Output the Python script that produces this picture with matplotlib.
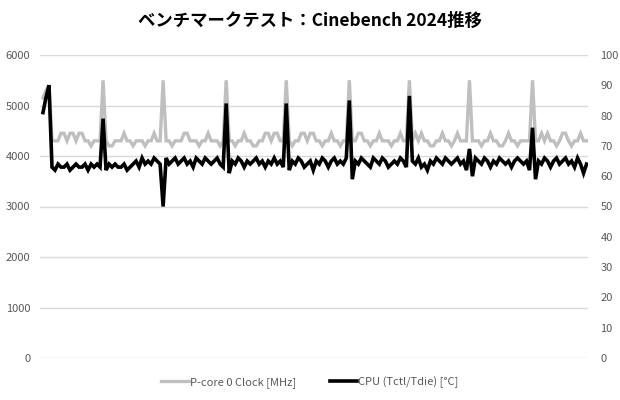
import matplotlib
matplotlib.use("Agg")
import matplotlib.pyplot as plt
import numpy as np

plt.rcParams['font.family'] = ['Noto Sans CJK JP', 'DejaVu Sans']

title = "ベンチマークテスト：Cinebench 2024推移"
label_clock = "P-core 0 Clock [MHz]"
label_temp = "CPU (Tctl/Tdie) [°C]"

left_ticks = [0, 1000, 2000, 3000, 4000, 5000, 6000]
right_ticks = [0, 10, 20, 30, 40, 50, 60, 70, 80, 90, 100]

clock = [
    5150, 5300, 5400, 4300,
    4300, 4300, 4450, 4450, 4300, 4450, 4450, 4300, 4450, 4450, 4300, 4300, 4200, 4300, 4300, 4300,
    5500,
    4300, 4200, 4200, 4300, 4300, 4300, 4450, 4300, 4300, 4200, 4300, 4300, 4300, 4200, 4300, 4300, 4450, 4300, 4300,
    5500,
    4300, 4300, 4200, 4300, 4300, 4300, 4450, 4450, 4300, 4300, 4300, 4200, 4300, 4300, 4450, 4300, 4300, 4300, 4200, 4300,
    5500,
    4300, 4300, 4200, 4300, 4300, 4450, 4300, 4300, 4200, 4200, 4300, 4300, 4450, 4450, 4300, 4450, 4450, 4300, 4300,
    5500,
    4300, 4200, 4300, 4300, 4450, 4450, 4300, 4450, 4450, 4300, 4300, 4200, 4300, 4300, 4450, 4300, 4300, 4200, 4300, 4300,
    5500,
    4300, 4300, 4450, 4450, 4300, 4300, 4200, 4300, 4300, 4450, 4300, 4300, 4300, 4200, 4300, 4300, 4450, 4300, 4300,
    5500,
    4300, 4450, 4300, 4450, 4300, 4300, 4200, 4200, 4300, 4300, 4450, 4300, 4300, 4200, 4300, 4450, 4300, 4300, 4300,
    5500,
    4300, 4300, 4300, 4200, 4300, 4300, 4450, 4300, 4300, 4200, 4200, 4300, 4450, 4300, 4300, 4200, 4300, 4300, 4300, 4300,
    5500,
    4300, 4300, 4450, 4300, 4450, 4300, 4300, 4200, 4300, 4450, 4450, 4300, 4200, 4300, 4300, 4450, 4300, 4300,
]

temp = [
    81, 86, 90, 63,
    62, 64, 63, 63, 64, 62, 63, 64, 63, 63, 64, 62, 64, 63, 64, 63,
    79,
    62, 64, 63, 64, 63, 63, 64, 62, 63, 64, 65, 63, 66, 64, 65, 64, 66, 65, 64,
    50,
    66, 64, 65, 66, 64, 65, 66, 64, 65, 63, 66, 65, 64, 66, 65, 64, 65, 66, 64, 63,
    84,
    61, 65, 64, 66, 65, 63, 65, 64, 65, 66, 64, 65, 63, 65, 64, 66, 64, 65, 63,
    84,
    62, 65, 64, 66, 65, 63, 64, 65, 62, 65, 64, 66, 65, 63, 65, 66, 64, 65, 64, 66,
    85,
    59, 65, 64, 66, 65, 64, 63, 66, 65, 64, 66, 65, 63, 64, 65, 64, 66, 65, 63,
    86.5,
    65, 64, 66, 63, 64, 62, 65, 64, 66, 65, 64, 66, 65, 64, 65, 66, 64, 65, 62,
    69,
    60, 66, 65, 64, 66, 65, 63, 65, 64, 66, 65, 64, 65, 63, 65, 66, 65, 64, 65, 62,
    76,
    59, 65, 64, 66, 65, 63, 65, 66, 64, 65, 66, 64, 65, 63, 66, 64, 61, 64,
]

fig = plt.figure(figsize=(6.2, 4.0), dpi=100)
ax = fig.add_axes([0.0645, 0.105, 0.884, 0.7575])
ax2 = ax.twinx()

tick_color = "#595959"
grid_color = "#d9d9d9"

l1, = ax.plot(np.arange(len(clock)), clock, color="#bfbfbf", lw=2.4, solid_joinstyle="miter")
l2, = ax2.plot(np.arange(len(temp)), temp, color="#000000", lw=2.6, solid_joinstyle="miter")

ax.set_ylim(0, 6000)
ax2.set_ylim(0, 100)
ax.set_xlim(-1, len(clock) - 0.5)
ax.set_yticks(left_ticks)
ax2.set_yticks(right_ticks)
ax.set_xticks([])
ax.yaxis.grid(True, color=grid_color, lw=1)
ax.set_axisbelow(True)
for a in (ax, ax2):
    for s in a.spines.values():
        s.set_visible(False)
    a.tick_params(axis='y', length=0, labelsize=8, colors=tick_color)
ax.tick_params(axis='y', pad=7)
ax2.tick_params(axis='y', pad=9)

fig.text(0.5, 0.948, title, ha='center', va='center', fontsize=12.5, fontweight='bold', color="#000000")

fig.legend([l1, l2], [label_clock, label_temp], loc='center', bbox_to_anchor=(0.5, 0.045),
           ncol=2, frameon=False, fontsize=8, labelcolor=tick_color, handlelength=2.5,
           handletextpad=0.1, columnspacing=3)

fig.savefig("out.png", dpi=100)
